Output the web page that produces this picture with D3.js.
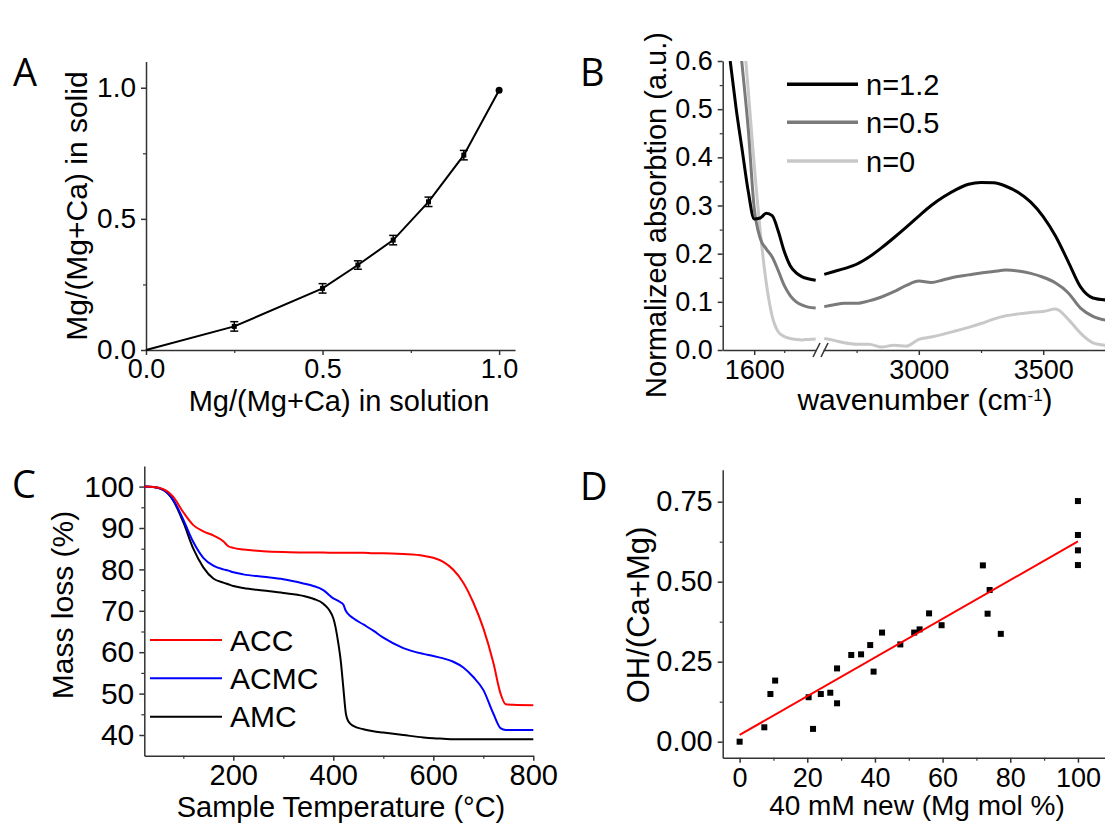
<!DOCTYPE html>
<html>
<head>
<meta charset="utf-8">
<script src="https://cdn.jsdelivr.net/npm/d3@7/dist/d3.min.js"></script>
<style>
  body { margin: 0; background: #fff; }
  svg text { font-family: "Liberation Sans", Arial, sans-serif; fill: #000; }
  .letter { font-family: "Open Sans", "Noto Sans", sans-serif !important; font-size: 38px; }
</style>
</head>
<body>
<div id="fig"></div>
<script>
// ---------- data ----------
// A: Mg fraction in solution vs in solid
const aSolution = [0, 0.25, 0.5, 0.6, 0.7, 0.8, 0.9, 1.0];
const aSolid = [0, 0.09, 0.235, 0.324, 0.419, 0.565, 0.743, 0.99];
const aErr = [0, 0.018, 0.018, 0.016, 0.018, 0.018, 0.018, 0];
const aTicks = [0, 0.5, 1.0];
const aMinor = [0.25, 0.75];

// B: IR spectra, broken wavenumber axis
const bNames = ["n=1.2", "n=0.5", "n=0"];
const bColors = ["#000000", "#7a7a7a", "#c8c8c8"];
const wnLeft = [1520, 1540, 1560, 1580, 1600, 1620, 1640, 1660, 1680, 1700, 1720, 1740, 1760, 1780, 1805];
const absLeft12 = [0.60, 0.50, 0.415, 0.33, 0.272, 0.274, 0.284, 0.279, 0.247, 0.205, 0.175, 0.160, 0.152, 0.148, 0.145];
const absLeft05 = [0.84, 0.715, 0.59, 0.46, 0.295, 0.232, 0.21, 0.193, 0.165, 0.134, 0.113, 0.100, 0.093, 0.089, 0.087];
const absLeft0 = [0.99, 0.84, 0.69, 0.54, 0.385, 0.248, 0.14, 0.07, 0.038, 0.028, 0.024, 0.022, 0.021, 0.022, 0.023];
const wnRight = [2620, 2660, 2700, 2750, 2800, 2850, 2900, 2950, 3000, 3050, 3100, 3150, 3200, 3250, 3300, 3350, 3400, 3450, 3500, 3550, 3600, 3650, 3700, 3750];
const absRight12 = [0.157, 0.163, 0.169, 0.178, 0.193, 0.212, 0.233, 0.255, 0.278, 0.300, 0.318, 0.333, 0.344, 0.348, 0.347, 0.340, 0.327, 0.307, 0.277, 0.236, 0.184, 0.131, 0.108, 0.104];
const absRight05 = [0.090, 0.094, 0.097, 0.097, 0.102, 0.110, 0.121, 0.134, 0.143, 0.140, 0.146, 0.152, 0.156, 0.160, 0.163, 0.166, 0.164, 0.159, 0.151, 0.139, 0.119, 0.087, 0.070, 0.062];
const absRight0 = [0.024, 0.020, 0.015, 0.012, 0.012, 0.006, 0.010, 0.008, 0.022, 0.027, 0.033, 0.040, 0.047, 0.055, 0.064, 0.071, 0.075, 0.078, 0.080, 0.085, 0.064, 0.035, 0.015, 0.010];
const bYTicks = [0, 0.1, 0.2, 0.3, 0.4, 0.5, 0.6];
const bYMinor = [0.05, 0.15, 0.25, 0.35, 0.45, 0.55];

// C: TGA mass loss
const cNames = ["ACC", "ACMC", "AMC"];
const cColors = ["#ff0000", "#0000ff", "#000000"];
const temps = [22, 40, 60, 80, 100, 120, 140, 160, 180, 190, 200, 220, 260, 300, 340, 360, 380, 400, 410, 415, 420, 425, 430, 440, 460, 480, 500, 540, 580, 600, 620, 640, 660, 680, 700, 720, 735, 745, 760, 800];
const massACC = [100, 99.9, 99.4, 97.5, 93.8, 90.7, 89.2, 88.2, 86.8, 85.6, 85.2, 84.8, 84.4, 84.2, 84.1, 84.1, 84.1, 84.0, 84.0, 84.0, 84.0, 84.0, 84.0, 84.0, 84.0, 83.9, 83.9, 83.7, 83.3, 82.8, 81.8, 79.9, 76.8, 72.0, 65.8, 57.5, 49.8, 47.4, 47.3, 47.2];
const massACMC = [100, 99.9, 99.2, 96.8, 92.0, 86.6, 82.8, 80.9, 80.0, 79.7, 79.3, 78.8, 78.2, 77.6, 76.6, 76.0, 75.0, 73.0, 72.4, 72.0, 71.5, 70.0, 69.2, 68.2, 66.7, 65.2, 63.5, 61.0, 59.6, 59.1, 58.5, 57.7, 56.3, 54.0, 50.9, 45.2, 41.6, 41.2, 41.2, 41.2];
const massAMC = [100, 99.9, 99.2, 96.6, 91.4, 85.0, 80.5, 77.8, 76.8, 76.4, 76.0, 75.5, 74.9, 74.3, 73.6, 72.9, 71.7, 68.2, 62.2, 57.8, 51.5, 45.3, 43.3, 42.2, 41.4, 40.9, 40.6, 40.0, 39.4, 39.2, 39.1, 39.0, 39.0, 39.0, 39.0, 39.0, 39.0, 39.0, 39.0, 39.0];

// D: OH content vs Mg mol %
const dMg = [0, 7.3, 9.1, 10.5, 20.4, 21.7, 24.0, 26.8, 28.8, 28.8, 33.0, 35.9, 38.6, 39.6, 42.1, 47.5, 51.6, 53.2, 56.0, 59.7, 71.9, 73.9, 73.3, 77.2, 100, 100, 100, 100];
const dOH = [0, 0.045, 0.149, 0.191, 0.139, 0.040, 0.149, 0.153, 0.229, 0.120, 0.271, 0.273, 0.302, 0.219, 0.341, 0.304, 0.341, 0.351, 0.401, 0.364, 0.551, 0.474, 0.400, 0.337, 0.752, 0.646, 0.598, 0.552];
const dFitX = [0, 100];
const dFitY = [0.021, 0.626];

// ---------- figure ----------
const width = 1105;
const height = 823;

const svg = d3.select("#fig")
  .append("svg")
  .attr("width", width)
  .attr("height", height);

function styleAxis(g, size) {
  g.select(".domain").attr("stroke", "#333").attr("stroke-width", 1.5);
  g.selectAll(".tick line").attr("stroke", "#333").attr("stroke-width", 1.5);
  g.selectAll(".tick text").style("font-size", size + "px");
}
function minorAxis(g) {
  g.select(".domain").remove();
  g.selectAll(".tick line").attr("stroke", "#333").attr("stroke-width", 1.2);
}

function title(x, y, txt, size, rotate) {
  const t = svg.append("text")
    .attr("text-anchor", "middle")
    .style("font-size", size + "px")
    .text(txt);
  if (rotate) t.attr("transform", `translate(${x},${y}) rotate(-90)`);
  else t.attr("x", x).attr("y", y);
  return t;
}

// panel letters
[["A", 13, 86], ["B", 580, 86], ["C", 12, 498], ["D", 580, 500]].forEach(d => {
  svg.append("text").attr("class", "letter").attr("x", d[1]).attr("y", d[2]).text(d[0]);
});

// ===== Panel A =====
const ax = d3.scaleLinear().domain([0, 1.045]).range([146, 515]);
const ay = d3.scaleLinear().domain([0, 1.1]).range([350, 61.5]);

svg.append("g").attr("transform", "translate(0,350)")
  .call(d3.axisBottom(ax).tickValues(aMinor).tickSize(3).tickFormat("")).call(minorAxis);
svg.append("g").attr("transform", "translate(146,0)")
  .call(d3.axisLeft(ay).tickValues(aMinor).tickSize(3).tickFormat("")).call(minorAxis);
svg.append("g").attr("transform", "translate(0,350)")
  .call(d3.axisBottom(ax).tickValues(aTicks).tickFormat(d3.format(".1f")).tickSize(5).tickPadding(4).tickSizeOuter(0))
  .call(g => styleAxis(g, 27));
svg.append("g").attr("transform", "translate(146,0)")
  .call(d3.axisLeft(ay).tickValues(aTicks).tickFormat(d3.format(".1f")).tickSize(5).tickPadding(5).tickSizeOuter(0))
  .call(g => styleAxis(g, 28));

const aIdx = d3.range(aSolution.length);
svg.append("path")
  .datum(aIdx)
  .attr("fill", "none")
  .attr("stroke", "#000")
  .attr("stroke-width", 2)
  .attr("d", d3.line().x(i => ax(aSolution[i])).y(i => ay(aSolid[i])));

const aBars = aIdx.filter(i => aErr[i] > 0);
const errG = svg.append("g").attr("stroke", "#000").attr("stroke-width", 1.5);
aBars.forEach(i => {
  const x = ax(aSolution[i]);
  const y0 = ay(aSolid[i] - aErr[i]), y1 = ay(aSolid[i] + aErr[i]);
  errG.append("line").attr("x1", x).attr("x2", x).attr("y1", y0).attr("y2", y1);
  errG.append("line").attr("x1", x - 4).attr("x2", x + 4).attr("y1", y0).attr("y2", y0);
  errG.append("line").attr("x1", x - 4).attr("x2", x + 4).attr("y1", y1).attr("y2", y1);
});
svg.append("g").selectAll("rect")
  .data(aBars)
  .enter()
  .append("rect")
  .attr("x", i => ax(aSolution[i]) - 2.5)
  .attr("y", i => ay(aSolid[i]) - 2.5)
  .attr("width", 5)
  .attr("height", 5)
  .attr("fill", "#000");
const last = aSolution.length - 1;
svg.append("circle")
  .attr("cx", ax(aSolution[last]))
  .attr("cy", ay(aSolid[last]))
  .attr("r", 3.5)
  .attr("fill", "#000");

title(87, 206, "Mg/(Mg+Ca) in solid", 30, true);
title(339, 411, "Mg/(Mg+Ca) in solution", 29, false);

// ===== Panel B =====
const bxL = d3.scaleLinear().domain([1495, 1805]).range([722.7, 815.7]);
const bxR = d3.scaleLinear().domain([2615, 3750]).range([823, 1105.4]);
const by = d3.scaleLinear().domain([0, 0.6]).range([350, 61]);

svg.append("defs").append("clipPath").attr("id", "clipB")
  .append("rect").attr("x", 723).attr("y", 61).attr("width", 390).attr("height", 295);

svg.append("g").attr("transform", "translate(722.7,0)")
  .call(d3.axisLeft(by).tickValues(bYMinor).tickSize(3).tickFormat("")).call(minorAxis);
svg.append("g").attr("transform", "translate(722.7,0)")
  .call(d3.axisLeft(by).tickValues(bYTicks).tickFormat(d3.format(".1f")).tickSize(5).tickPadding(5).tickSizeOuter(0))
  .call(g => styleAxis(g, 27));
svg.append("g").attr("transform", "translate(0,350)")
  .call(d3.axisBottom(bxL).tickValues([1700]).tickSize(3).tickFormat("")).call(minorAxis);
svg.append("g").attr("transform", "translate(0,350)")
  .call(d3.axisBottom(bxR).tickValues([2750, 3250, 3750]).tickSize(3).tickFormat("")).call(minorAxis);
svg.append("g").attr("transform", "translate(0,350)")
  .call(d3.axisBottom(bxL).tickValues([1600]).tickFormat(d3.format("d")).tickSize(5).tickPadding(5).tickSizeOuter(0))
  .call(g => styleAxis(g, 27));
svg.append("g").attr("transform", "translate(0,350)")
  .call(d3.axisBottom(bxR).tickValues([3000, 3500]).tickFormat(d3.format("d")).tickSize(5).tickPadding(5).tickSizeOuter(0))
  .call(g => styleAxis(g, 27));

// axis break marks
[813, 821].forEach(x0 => {
  svg.append("line")
    .attr("x1", x0).attr("y1", 357).attr("x2", x0 + 7).attr("y2", 343)
    .attr("stroke", "#333").attr("stroke-width", 1.5);
});

const leftSeries = [absLeft12, absLeft05, absLeft0];
const rightSeries = [absRight12, absRight05, absRight0];
const bPlot = svg.append("g").attr("clip-path", "url(#clipB)");
// draw light first so black sits on top
[2, 1, 0].forEach(k => {
  bPlot.append("path")
    .datum(d3.range(wnLeft.length))
    .attr("fill", "none")
    .attr("stroke", bColors[k])
    .attr("stroke-width", 3)
    .attr("d", d3.line().curve(d3.curveMonotoneX)
      .x(i => bxL(wnLeft[i])).y(i => by(leftSeries[k][i])));
  bPlot.append("path")
    .datum(d3.range(wnRight.length))
    .attr("fill", "none")
    .attr("stroke", bColors[k])
    .attr("stroke-width", 3)
    .attr("d", d3.line().curve(d3.curveMonotoneX)
      .x(i => bxR(wnRight[i])).y(i => by(rightSeries[k][i])));
});

// legend B
const bLegY = [84.3, 122.3, 161];
bNames.forEach((n, k) => {
  svg.append("line")
    .attr("x1", 787).attr("x2", 858).attr("y1", bLegY[k]).attr("y2", bLegY[k])
    .attr("stroke", bColors[k]).attr("stroke-width", 3.5);
  svg.append("text")
    .attr("x", 866).attr("y", bLegY[k] + 10.5)
    .style("font-size", "29px")
    .text(n);
});

title(666, 215, "Normalized absorbtion (a.u.)", 29, true);
const bxt = title(925, 410, "wavenumber (cm", 30, false);
bxt.append("tspan").attr("dy", -9).style("font-size", "17px").text("-1");
bxt.append("tspan").attr("dy", 9).text(")");

// ===== Panel C =====
const cx = d3.scaleLinear().domain([22, 800]).range([144.3, 533.3]);
const cy = d3.scaleLinear().domain([35, 105]).range([755.7, 465.9]);

svg.append("g").attr("transform", "translate(0,755.7)")
  .call(d3.axisBottom(cx).tickValues([100, 300, 500, 700]).tickSize(3).tickFormat("")).call(minorAxis);
svg.append("g").attr("transform", "translate(144.3,0)")
  .call(d3.axisLeft(cy).tickValues([45, 55, 65, 75, 85, 95]).tickSize(3).tickFormat("")).call(minorAxis);
svg.append("g").attr("transform", "translate(0,755.7)")
  .call(d3.axisBottom(cx).tickValues([200, 400, 600, 800]).tickSize(5).tickPadding(4).tickSizeOuter(0))
  .call(g => styleAxis(g, 29));
svg.append("g").attr("transform", "translate(144.3,0)")
  .call(d3.axisLeft(cy).tickValues([40, 50, 60, 70, 80, 90, 100]).tickSize(5).tickPadding(5).tickSizeOuter(0))
  .call(g => styleAxis(g, 30));

const cSeries = [massACC, massACMC, massAMC];
[2, 1, 0].forEach(k => {
  svg.append("path")
    .datum(d3.range(temps.length))
    .attr("fill", "none")
    .attr("stroke", cColors[k])
    .attr("stroke-width", 2)
    .attr("d", d3.line().curve(d3.curveMonotoneX)
      .x(i => cx(temps[i])).y(i => cy(cSeries[k][i])));
});

const cLegY = [640, 678.3, 716.7];
cNames.forEach((n, k) => {
  svg.append("line")
    .attr("x1", 150).attr("x2", 222).attr("y1", cLegY[k]).attr("y2", cLegY[k])
    .attr("stroke", cColors[k]).attr("stroke-width", 2);
  svg.append("text")
    .attr("x", 230).attr("y", cLegY[k] + 10.5)
    .style("font-size", "30px")
    .text(n);
});

title(73, 605, "Mass loss (%)", 30, true);
title(341, 817, "Sample Temperature (°C)", 29, false);

// ===== Panel D =====
const dx = d3.scaleLinear().domain([-5, 108]).range([722.7, 1105]);
const dy = d3.scaleLinear().domain([-0.05, 0.85]).range([757.7, 469.7]);

svg.append("g").attr("transform", "translate(0,757.7)")
  .call(d3.axisBottom(dx).tickValues([10, 30, 50, 70, 90]).tickSize(3).tickFormat("")).call(minorAxis);
svg.append("g").attr("transform", "translate(722.7,0)")
  .call(d3.axisLeft(dy).tickValues([0.125, 0.375, 0.625]).tickSize(3).tickFormat("")).call(minorAxis);
svg.append("g").attr("transform", "translate(0,757.7)")
  .call(d3.axisBottom(dx).tickValues([0, 20, 40, 60, 80, 100]).tickSize(5).tickPadding(5).tickSizeOuter(0))
  .call(g => styleAxis(g, 27));
svg.append("g").attr("transform", "translate(722.7,0)")
  .call(d3.axisLeft(dy).tickValues([0, 0.25, 0.5, 0.75]).tickFormat(d3.format(".2f")).tickSize(5).tickPadding(5).tickSizeOuter(0))
  .call(g => styleAxis(g, 29));

svg.append("g").selectAll("rect")
  .data(d3.range(dMg.length))
  .enter()
  .append("rect")
  .attr("x", i => dx(dMg[i]) - 3)
  .attr("y", i => dy(dOH[i]) - 3)
  .attr("width", 6)
  .attr("height", 6)
  .attr("fill", "#000");

svg.append("path")
  .datum(d3.range(dFitX.length))
  .attr("fill", "none")
  .attr("stroke", "#ff0000")
  .attr("stroke-width", 2)
  .attr("d", d3.line().x(i => dx(dFitX[i])).y(i => dy(dFitY[i])));

title(649, 615, "OH/(Ca+Mg)", 31, true);
title(917, 815, "40 mM new (Mg mol %)", 28, false);
</script>
</body>
</html>
